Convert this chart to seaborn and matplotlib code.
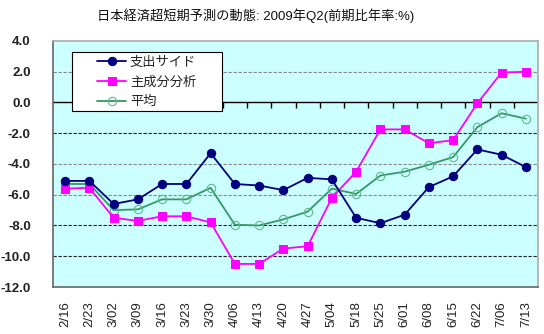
import numpy as np
import pandas as pd
import matplotlib
matplotlib.use("Agg")
import matplotlib.pyplot as plt
from matplotlib.patches import Rectangle
import seaborn as sns

dates = ["2/16", "2/23", "3/02", "3/09", "3/16", "3/23", "3/30", "4/06", "4/13", "4/20",
         "4/27", "5/04", "5/18", "5/25", "6/01", "6/08", "6/15", "6/22", "7/06", "7/13"]
expenditure = [-5.1, -5.1, -6.6, -6.3, -5.3, -5.3, -3.3, -5.3, -5.4, -5.7,
               -4.9, -5.0, -7.5, -7.85, -7.3, -5.5, -4.8, -3.05, -3.4, -4.2]
pca = [-5.6, -5.55, -7.5, -7.7, -7.4, -7.4, -7.8, -10.5, -10.5, -9.5,
       -9.35, -6.2, -4.5, -1.75, -1.75, -2.65, -2.45, -0.05, 1.95, 2.0]
average = [-5.3, -5.3, -7.0, -6.95, -6.3, -6.3, -5.55, -7.95, -8.0, -7.6,
           -7.1, -5.6, -5.95, -4.75, -4.5, -4.05, -3.55, -1.6, -0.7, -1.05]
series_names = ["支出サイド", "主成分分析", "平均"]
yticks = [4.0, 2.0, 0.0, -2.0, -4.0, -6.0, -8.0, -10.0, -12.0]
title = "日本経済超短期予測の動態: 2009年Q2(前期比年率:%)"

sns.set_style("white")
plt.rcParams['font.family'] = ['Liberation Sans', 'Noto Sans CJK JP', 'DejaVu Sans']

fig = plt.figure(figsize=(5.44, 3.34), dpi=100)
ax = fig.add_axes([53/544, 1-287/334, 485/544, 246/334])
ax.set_facecolor("#CCFFFF")

df = pd.DataFrame({"date": dates, "exp": expenditure, "pca": pca, "avg": average})

sns.lineplot(data=df, x="date", y="exp", ax=ax, color="#000080", marker="o",
             markersize=6, markeredgecolor="#000080", markerfacecolor="#000080",
             linewidth=1.3, sort=False, label=series_names[0], zorder=5)
sns.lineplot(data=df, x="date", y="pca", ax=ax, color="#FF00FF", marker="s",
             markersize=6, markeredgecolor="#FF00FF", markerfacecolor="#FF00FF",
             linewidth=1.3, sort=False, label=series_names[1], zorder=4)
sns.lineplot(data=df, x="date", y="avg", ax=ax, color="#339966", marker="o",
             markersize=6, markeredgecolor="#5FB88A", markerfacecolor="none",
             markeredgewidth=0.8, linewidth=1.3, sort=False, label=series_names[2], zorder=3)

ax.set_xlim(-0.5, len(dates) - 0.5)
ax.set_ylim(-12, 4)
ax.set_yticks(yticks)
ax.set_yticklabels([f"{v:.1f}" for v in yticks], fontsize=9.5, fontweight="bold", color="#222222")
ax.set_xticks(range(len(dates)))
ax.set_xticklabels(dates, rotation=90, fontsize=9.5, color="#222222")
ax.tick_params(axis="x", length=0, pad=10)
ax.tick_params(axis="y", length=0, pad=16)
ax.set_xlabel("")
ax.set_ylabel("")

# gridlines
for v in yticks[1:-1]:
    if v == 0:
        continue
    col = "#222222" if v in (-2.0, -8.0, -10.0) else "#888888"
    ax.axhline(v, color=col, linestyle=(0, (3, 1.5)), linewidth=0.8, zorder=1)
ax.axhline(0, color="black", linewidth=1.0, zorder=2)

# category axis ticks at y=0
sec = ax.secondary_xaxis((0 - (-12)) / 16)
sec.set_xticks(np.arange(0.5, len(dates) - 0.5, 1.0))
sec.set_xticklabels([])
sec.tick_params(axis="x", direction="in", length=4, width=1, color="black")
sec.spines["bottom"].set_visible(False)
sec.spines["top"].set_visible(False)

for s in ["top", "right"]:
    ax.spines[s].set_color("#AAAAAA")
    ax.spines[s].set_linewidth(1.2)
for s in ["left", "bottom"]:
    ax.spines[s].set_color("#666666")
    ax.spines[s].set_linewidth(1.2)

# legend frame box
ax.add_patch(Rectangle((19/485, 176/246), 150/485, 59.3/246, transform=ax.transAxes,
                       facecolor="white", edgecolor="black", linewidth=0.8, zorder=6))
leg = ax.legend(loc="upper left", bbox_to_anchor=(44/485, (287-55.5)/246), frameon=False,
                fontsize=9.5, handlelength=2.2, borderpad=0, labelspacing=0.52,
                handletextpad=0.3, borderaxespad=0)
leg.set_zorder(7)
for t in leg.get_texts():
    t.set_family(['Noto Sans CJK JP', 'DejaVu Sans'])
    t.set_color("#222222")

fig.text(256/544, 1-16/334, title, ha="center", va="center", fontsize=9.5,
         family=['Liberation Sans', 'Noto Sans CJK JP', 'DejaVu Sans'], color="#111111")

fig.savefig("out.png", dpi=100)
